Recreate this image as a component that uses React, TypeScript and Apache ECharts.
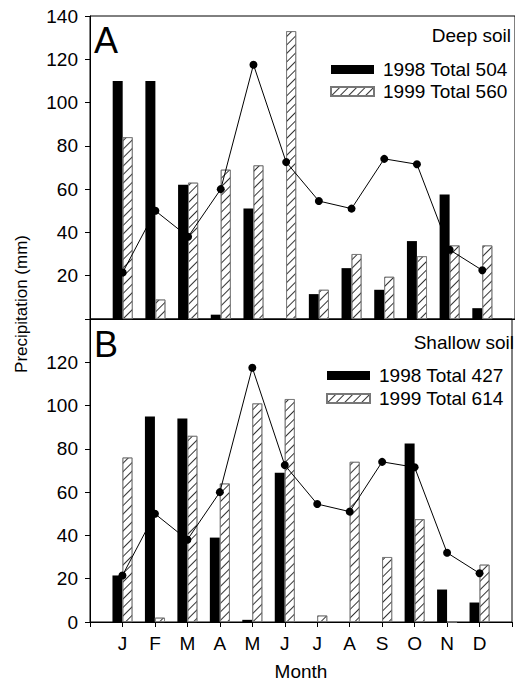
import React, { useEffect, useRef } from "react";
import * as echarts from "echarts";

const months = ["J", "F", "M", "A", "M", "J", "J", "A", "S", "O", "N", "D"];
const deep1998 = [110, 110, 62, 2, 51, 0, 11.5, 23.5, 13.5, 36, 57.5, 5];
const deep1999 = [84, 9, 63, 69, 71, 133, 13.5, 30, 19.5, 29, 34, 34];
const shallow1998 = [21.5, 95, 94, 39, 1, 69, 0, 0, 0, 82.5, 15, 9];
const shallow1999 = [76, 2, 86, 64, 101, 103, 3, 74, 30, 47.5, 0, 26.5];
const longTerm = [21.5, 50, 38, 60, 117.5, 72.5, 54.5, 51, 74, 71.5, 32, 22.5];
const yTicks = [0, 20, 40, 60, 80, 100, 120, 140];
const legendDeep = ["1998 Total 504", "1999 Total 560"];
const legendShallow = ["1998 Total 427", "1999 Total 614"];
const panelLabels = ["A", "B"];
const soilLabels = ["Deep soil", "Shallow soil"];

const FONT = "'Liberation Sans', Arial, Helvetica, sans-serif";
const FS = 19;

const toXY = (vals: number[]) => vals.map((v, i) => [i + 1, v]);

const hatchStyle = {
  color: "#ffffff",
  borderColor: "#777",
  borderWidth: 0.8,
  decal: {
    symbol: "rect",
    symbolSize: 1,
    dashArrayX: [1, 0],
    dashArrayY: [1, 5],
    rotation: -Math.PI / 4,
    color: "#333",
    backgroundColor: "#ffffff",
  },
};
const solidStyle = { color: "#000000" };

export default function App() {
  const ref = useRef<HTMLDivElement>(null);
  useEffect(() => {
    document.body.style.margin = "0";
    if (!ref.current) return;
    const chart = echarts.init(ref.current, undefined, { renderer: "svg" });
    const yMax = yTicks[yTicks.length - 1];
    const mkY = (gridIndex: number, hide: number) => ({
      type: "value",
      gridIndex,
      min: 0,
      max: yMax,
      interval: 20,
      axisLine: { show: true, lineStyle: { color: "#000", width: 1 } },
      axisTick: { show: true, inside: false, length: 5, lineStyle: { color: "#000" } },
      axisLabel: {
        margin: 12,
        fontSize: FS,
        color: "#000",
        fontFamily: FONT,
        formatter: (v: number) => (v === hide ? "" : String(v)),
      },
      splitLine: { show: false },
    });
    const mkX = (gridIndex: number, labels: boolean) => ({
      type: "value",
      gridIndex,
      min: 0,
      max: 13,
      interval: 1,
      axisLine: { show: true, onZero: false, lineStyle: { color: "#000", width: 1 } },
      axisTick: { show: labels, inside: false, length: 5, lineStyle: { color: "#000" } },
      axisLabel: {
        show: labels,
        margin: 12,
        fontSize: FS,
        color: "#000",
        fontFamily: FONT,
        formatter: (v: number) => months[Math.round(v) - 1] ?? "",
      },
      splitLine: { show: false },
      name: labels ? "Month" : "",
      nameLocation: "middle",
      nameGap: 40,
      nameTextStyle: { fontSize: FS, color: "#000", fontFamily: FONT },
    });
    const barSeries = (name: string, vals: number[], idx: number, hatched: boolean) => ({
      name,
      type: "bar",
      xAxisIndex: idx,
      yAxisIndex: idx,
      barWidth: 10,
      barGap: "0%",
      data: toXY(vals),
      itemStyle: hatched ? hatchStyle : solidStyle,
      z: 2,
    });
    const lineSeries = (idx: number) => ({
      name: "avg" + idx,
      type: "line",
      xAxisIndex: idx,
      yAxisIndex: idx,
      data: toXY(longTerm),
      symbol: "circle",
      symbolSize: 8,
      lineStyle: { color: "#000", width: 1 },
      itemStyle: { color: "#000" },
      z: 5,
    });
    const legendCommon = {
      orient: "vertical",
      itemWidth: 43,
      itemHeight: 9,
      icon: "rect",
      textStyle: { fontSize: FS, color: "#000", fontFamily: FONT },
    };
    chart.setOption({
      animation: false,
      backgroundColor: "#fff",
      textStyle: { fontFamily: FONT },
      grid: [
        { left: 90, right: -8, top: 16, height: 303, show: true, borderColor: "#000", borderWidth: 1 },
        { left: 90, right: -8, top: 319, height: 303, show: true, borderColor: "#000", borderWidth: 1 },
      ],
      xAxis: [mkX(0, false), mkX(1, true)],
      yAxis: [mkY(0, 0), mkY(1, yMax)],
      legend: [
        {
          ...legendCommon,
          left: 325,
          top: 55,
          itemGap: 3,
          data: legendDeep,
          textStyle: { ...legendCommon.textStyle, padding: [0, 0, 0, 4] },
        },
        {
          ...legendCommon,
          left: 321,
          top: 361,
          itemGap: 4,
          data: legendShallow,
          textStyle: { ...legendCommon.textStyle, padding: [0, 0, 0, 4] },
        },
      ],
      graphic: [
        {
          type: "text",
          left: 94,
          top: 22,
          style: { text: panelLabels[0], fontSize: 36, fill: "#000", fontFamily: FONT },
        },
        {
          type: "text",
          left: 94,
          top: 326,
          style: { text: panelLabels[1], fontSize: 36, fill: "#000", fontFamily: FONT },
        },
        {
          type: "text",
          x: 511,
          y: 35,
          style: { text: soilLabels[0], fontSize: FS, fill: "#000", fontFamily: FONT, align: "right", verticalAlign: "middle" },
        },
        {
          type: "text",
          x: 514,
          y: 342,
          style: { text: soilLabels[1], fontSize: FS, fill: "#000", fontFamily: FONT, align: "right", verticalAlign: "middle" },
        },
        {
          type: "text",
          x: 21,
          y: 304,
          rotation: Math.PI / 2,
          style: { text: "Precipitation (mm)", fontSize: 17, fill: "#000", fontFamily: FONT, align: "center", verticalAlign: "middle" },
        },
      ],
      series: [
        barSeries(legendDeep[0], deep1998, 0, false),
        barSeries(legendDeep[1], deep1999, 0, true),
        lineSeries(0),
        barSeries(legendShallow[0], shallow1998, 1, false),
        barSeries(legendShallow[1], shallow1999, 1, true),
        lineSeries(1),
      ],
    });
    return () => chart.dispose();
  }, []);
  return <div ref={ref} style={{ width: 515, height: 682 }} />;
}
